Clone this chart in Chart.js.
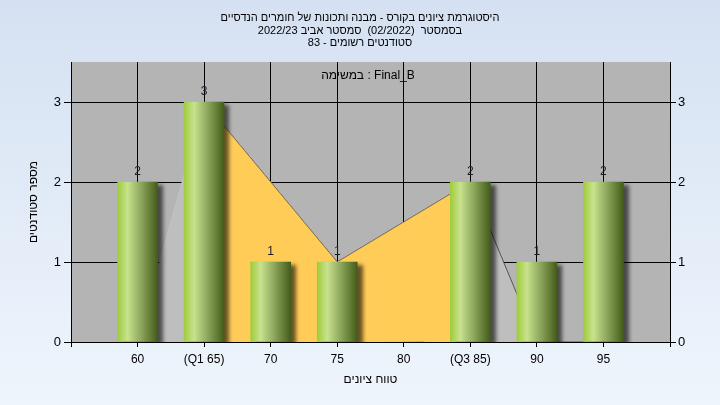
<!DOCTYPE html>
<html>
<head>
<meta charset="utf-8">
<script src="https://cdn.jsdelivr.net/npm/chart.js@4"></script>
<style>
  html, body { margin: 0; padding: 0; }
  body { width: 720px; height: 405px; background: linear-gradient(#d5e1f2, #eef5fc); }
  #wrap { width: 720px; height: 405px; }
</style>
</head>
<body>
<div id="wrap"><canvas id="histChart" width="720" height="405"></canvas></div>
<script>
// categories (blank ends pad the axis like the original)
var labels = ['', '60', '(Q1 65)', '70', '75', '80', '(Q3 85)', '90', '95', ''];
var students = [null, 2, 3, 1, 1, 0, 2, 1, 2, null];
// quartile band (Q1 -> median -> Q3)
var quartileBand = [null, null, 3, null, 1, null, 2, null, null, null];
// outer envelope behind it
var envelope = [null, 0, 3, null, 1, null, 2, 0, 0, null];
var yTicks = [0, 1, 2, 3];

var titleLines = [
  'היסטוגרמת ציונים בקורס - מבנה ותכונות של חומרים הנדסיים',
  'בסמסטר  (02/2022)  סמסטר אביב 2022/23',
  'סטודנטים רשומים - 83'
];
var taskLabel = 'במשימה : Final_B';

var FONT = '"Liberation Sans", "DejaVu Sans", sans-serif';

function barFill(c) {
  var x = c.chart.scales.x;
  if (!x || c.dataIndex === undefined) return '#9cc83a';
  var cx = x.getPixelForValue(c.dataIndex);
  if (!isFinite(cx)) return '#9cc83a';
  var g = c.chart.ctx.createLinearGradient(cx - 20, 0, cx + 20, 0);
  g.addColorStop(0, '#9fcc3c');
  g.addColorStop(0.25, '#c8e28e');
  g.addColorStop(0.55, '#93ad62');
  g.addColorStop(1, '#445c1a');
  return g;
}

var plotBg = {
  id: 'plotBg',
  beforeDraw: function (chart) {
    var a = chart.chartArea, ctx = chart.ctx;
    ctx.save();
    ctx.fillStyle = '#b4b4b4';
    ctx.fillRect(a.left, a.top, a.right - a.left, a.bottom - a.top);
    ctx.restore();
  }
};

var barShadow = {
  id: 'barShadow',
  beforeDatasetDraw: function (chart, args) {
    if (args.index !== 0) return;
    var ctx = chart.ctx;
    ctx.save();
    ctx.shadowColor = 'rgba(0,0,0,0.6)';
    ctx.shadowOffsetX = 5;
    ctx.shadowOffsetY = 3;
    ctx.shadowBlur = 4;
  },
  afterDatasetDraw: function (chart, args) {
    if (args.index !== 0) return;
    chart.ctx.restore();
  }
};

var texts = {
  id: 'texts',
  afterDraw: function (chart) {
    var ctx = chart.ctx;
    ctx.save();
    ctx.fillStyle = '#000';
    ctx.textAlign = 'center';
    ctx.textBaseline = 'middle';
    ctx.font = '11px ' + FONT;
    ctx.fillText(titleLines[0], 360, 18);
    ctx.fillText(titleLines[1], 360, 31);
    ctx.fillText(titleLines[2], 360, 43);
    ctx.font = '12px ' + FONT;
    ctx.fillText(taskLabel, 368, 76);
    // value labels above bars
    var meta = chart.getDatasetMeta(0);
    ctx.fillStyle = '#1c1c28';
    meta.data.forEach(function (bar, i) {
      var v = students[i];
      if (!v) return;
      ctx.fillText(String(v), bar.x, bar.y - 10);
    });
    ctx.restore();
  }
};

var ctx = document.getElementById('histChart').getContext('2d');
var histChart = new Chart(ctx, {
  type: 'bar',
  data: {
    labels: labels,
    datasets: [
      {
        type: 'bar',
        label: 'students',
        data: students,
        backgroundColor: barFill,
        borderWidth: 0,
        barThickness: 40,
        order: 0
      },
      {
        type: 'line',
        label: 'quartiles',
        data: quartileBand,
        spanGaps: true,
        fill: 'origin',
        backgroundColor: '#ffcc58',
        borderColor: 'rgba(130,110,70,0.7)',
        borderWidth: 1,
        pointRadius: 0,
        tension: 0,
        order: 1
      },
      {
        type: 'line',
        label: 'envelope',
        data: envelope,
        spanGaps: true,
        fill: 'origin',
        backgroundColor: '#bebebe',
        borderColor: 'rgba(60,60,60,0.8)',
        segment: {
          borderColor: function (s) { return s.p0DataIndex < 2 ? 'rgba(200,200,200,0.6)' : 'rgba(60,60,60,0.8)'; }
        },
        borderWidth: 1,
        pointRadius: 0,
        tension: 0,
        order: 2
      }
    ]
  },
  options: {
    responsive: false,
    animation: false,
    layout: { padding: { top: 62, right: 0, left: 0, bottom: 0 } },
    plugins: {
      legend: { display: false },
      tooltip: { enabled: false },
      title: { display: false }
    },
    scales: {
      x: {
        type: 'category',
        offset: false,
        grid: { offset: false, color: '#000', lineWidth: 1, tickLength: 5, tickColor: '#000' },
        border: { color: '#000', width: 1 },
        ticks: { color: '#000', font: { family: FONT, size: 12 }, padding: 5, maxRotation: 0, autoSkip: false },
        title: { display: true, text: 'טווח ציונים', color: '#000', font: { family: FONT, size: 12 }, padding: { bottom: 18, top: 0 } },
        afterFit: function (s) { s.height = 63; }
      },
      y: {
        position: 'left',
        min: 0,
        max: 3.5,
        grid: { color: '#000', lineWidth: 1, tickLength: 7, tickColor: '#000' },
        border: { color: '#000', width: 1 },
        ticks: { stepSize: 1, color: '#000', font: { family: FONT, size: 13 }, padding: 3 },
        afterBuildTicks: function (s) { s.ticks = yTicks.map(function (v) { return { value: v }; }); },
        title: { display: true, text: 'מספר סטודנטים', color: '#000', font: { family: FONT, size: 12 }, padding: { top: 26, bottom: 0 } },
        afterFit: function (s) { s.width = 71; }
      },
      y2: {
        position: 'right',
        min: 0,
        max: 3.5,
        grid: { drawOnChartArea: false, tickLength: 6, tickColor: '#000' },
        border: { color: '#000', width: 1 },
        ticks: { stepSize: 1, color: '#000', font: { family: FONT, size: 13 }, padding: 2 },
        afterBuildTicks: function (s) { s.ticks = yTicks.map(function (v) { return { value: v }; }); },
        afterFit: function (s) { s.width = 50; }
      }
    }
  },
  plugins: [plotBg, barShadow, texts]
});
</script>
</body>
</html>
